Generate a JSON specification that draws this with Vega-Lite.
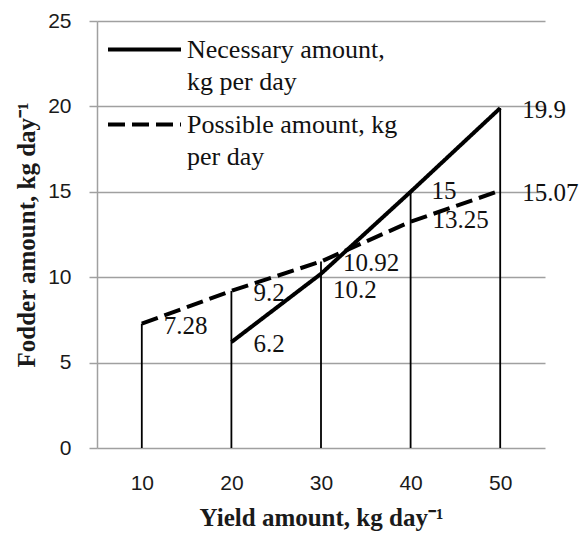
{
  "$schema": "https://vega.github.io/schema/vega-lite/v6.json",
  "width": 448,
  "height": 427,
  "autosize": "none",
  "padding": {"left": 97, "top": 21, "right": 36, "bottom": 86},
  "background": "white",
  "config": {
    "view": {"stroke": null},
    "axis": {"labelColor": "#1a1a1a", "titleColor": "#1a1a1a"},
    "style": {"guide-label": {"lineHeight": 32}}
  },
  "data": {
    "values": [
      {"x": "10", "series": "Possible amount, kg per day", "value": 7.28},
      {"x": "20", "series": "Possible amount, kg per day", "value": 9.2},
      {"x": "30", "series": "Possible amount, kg per day", "value": 10.92},
      {"x": "40", "series": "Possible amount, kg per day", "value": 13.25},
      {"x": "50", "series": "Possible amount, kg per day", "value": 15.07},
      {"x": "20", "series": "Necessary amount, kg per day", "value": 6.2},
      {"x": "30", "series": "Necessary amount, kg per day", "value": 10.2},
      {"x": "40", "series": "Necessary amount, kg per day", "value": 15},
      {"x": "50", "series": "Necessary amount, kg per day", "value": 19.9}
    ]
  },
  "encoding": {
    "x": {
      "field": "x",
      "type": "ordinal",
      "sort": ["10", "20", "30", "40", "50"],
      "scale": {"type": "point", "padding": 0.5},
      "axis": {
        "title": "Yield amount, kg day⁻¹",
        "titleFont": "Liberation Serif",
        "titleFontWeight": "bold",
        "titleFontSize": 25,
        "titlePadding": 12,
        "labelFont": "Liberation Sans",
        "labelFontSize": 21,
        "labelAngle": 0,
        "labelPadding": 24,
        "domain": false,
        "ticks": false,
        "grid": false
      }
    },
    "y": {
      "field": "value",
      "type": "quantitative",
      "scale": {"domain": [0, 25], "nice": false},
      "axis": {
        "title": "Fodder amount, kg day⁻¹",
        "titleFont": "Liberation Serif",
        "titleFontWeight": "bold",
        "titleFontSize": 25,
        "titlePadding": 8,
        "values": [0, 5, 10, 15, 20, 25],
        "labelFont": "Liberation Sans",
        "labelFontSize": 21,
        "labelPadding": 18,
        "domainColor": "#a0a0a0",
        "domainWidth": 1.5,
        "tickColor": "#a0a0a0",
        "tickWidth": 1.5,
        "tickSize": 8,
        "gridColor": "#a0a0a0",
        "gridWidth": 1.5
      }
    }
  },
  "layer": [
    {
      "transform": [{"aggregate": [{"op": "max", "field": "value", "as": "top"}], "groupby": ["x"]}],
      "mark": {"type": "rule", "color": "black", "strokeWidth": 1.8},
      "encoding": {"y": {"field": "top", "type": "quantitative"}, "y2": {"datum": 0}}
    },
    {
      "transform": [{"filter": "datum.value != 10.2 && datum.value != 13.25 && datum.value != 15"}],
      "mark": {"type": "text", "align": "left", "baseline": "middle", "dx": 22, "dy": 2, "font": "Liberation Serif", "fontSize": 25, "color": "#111"},
      "encoding": {"text": {"field": "value", "type": "quantitative"}}
    },
    {
      "transform": [{"filter": "datum.value == 15"}],
      "mark": {"type": "text", "align": "left", "baseline": "middle", "dx": 21, "dy": -1, "font": "Liberation Serif", "fontSize": 25, "color": "#111"},
      "encoding": {"text": {"field": "value", "type": "quantitative"}}
    },
    {
      "transform": [{"filter": "datum.value == 10.2"}],
      "mark": {"type": "text", "align": "left", "baseline": "middle", "dx": 12, "dy": 16, "font": "Liberation Serif", "fontSize": 25, "color": "#111"},
      "encoding": {"text": {"field": "value", "type": "quantitative"}}
    },
    {
      "transform": [{"filter": "datum.value == 13.25"}],
      "mark": {"type": "text", "align": "left", "baseline": "middle", "dx": 22, "dy": -2, "font": "Liberation Serif", "fontSize": 25, "color": "#111"},
      "encoding": {"text": {"field": "value", "type": "quantitative"}}
    },
    {
      "mark": {"type": "line", "color": "black", "strokeWidth": 4},
      "encoding": {
        "strokeDash": {
          "field": "series",
          "type": "nominal",
          "scale": {"domain": ["Necessary amount, kg per day", "Possible amount, kg per day"], "range": [[1, 0], [17, 7]]},
          "legend": {
            "title": null,
            "orient": "none",
            "legendX": 27,
            "legendY": 8,
            "padding": 0,
            "symbolType": "M-2,0L2,0",
            "symbolSize": 1332,
            "symbolStrokeWidth": 4,
            "symbolStrokeColor": "black",
            "labelFont": "Liberation Serif",
            "labelFontSize": 26,
            "labelColor": "#111",
            "labelOffset": 22,
            "labelLimit": 400,
            "rowPadding": 9,
            "labelExpr": "datum.label == 'Necessary amount, kg per day' ? ['Necessary amount,', 'kg per day'] : ['Possible amount, kg', 'per day']"
          }
        }
      }
    }
  ]
}
